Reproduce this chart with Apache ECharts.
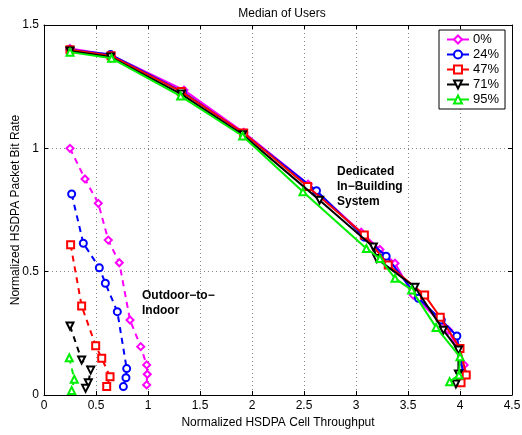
<!DOCTYPE html>
<html>
<head>
<meta charset="utf-8">
<script src="https://cdn.jsdelivr.net/npm/echarts@6/dist/echarts.min.js"></script>
<style>
  html, body { margin: 0; padding: 0; background: #fff; }
  #chart { width: 522px; height: 435px; }
</style>
</head>
<body>
<div id="chart"></div>
<script>
// legend names, colours and marker shapes
var names = ['0%', '24%', '47%', '71%', '95%'];
var colors = ['#ff00ff', '#0000ff', '#ff0000', '#000000', '#00ee00'];
var symbols = ['emptyDiamond', 'emptyCircle', 'emptyRect', 'emptyTriangle', 'emptyTriangle'];
var rotates = [0, 0, 0, 180, 0];

// Dedicated In-Building System (solid), [throughput, bit rate]
var dib0 = [[0.25,1.405],[0.645,1.378],[1.346,1.236],[1.92,1.065],[2.54,0.855],[3.05,0.66],[3.23,0.59],[3.375,0.534],[3.55,0.405],[3.89,0.263],[4.04,0.122],[4.02,0.07]];
var dib24 = [[0.25,1.40],[0.64,1.38],[1.33,1.23],[1.92,1.06],[2.62,0.828],[3.08,0.64],[3.29,0.563],[3.6,0.392],[3.82,0.304],[3.97,0.239],[4.03,0.088],[4.0,0.05]];
var dib47 = [[0.25,1.40],[0.645,1.375],[1.32,1.23],[1.92,1.062],[2.535,0.845],[3.08,0.649],[3.31,0.527],[3.66,0.405],[3.81,0.315],[4.0,0.189],[4.06,0.081],[4.01,0.05]];
var dib71 = [[0.25,1.395],[0.64,1.37],[1.32,1.22],[1.91,1.055],[2.65,0.79],[3.167,0.60],[3.2,0.553],[3.567,0.437],[3.84,0.263],[3.985,0.182],[3.985,0.085],[3.96,0.045]];
var dib95 = [[0.25,1.39],[0.65,1.365],[1.314,1.212],[1.91,1.05],[2.49,0.824],[3.1,0.594],[3.23,0.553],[3.375,0.473],[3.535,0.426],[3.77,0.274],[4.0,0.155],[3.99,0.081],[3.9,0.054]];

// Outdoor-to-Indoor (dashed)
var o2i0 = [[0.25,1.0],[0.394,0.876],[0.522,0.777],[0.618,0.628],[0.724,0.536],[0.827,0.304],[0.93,0.196],[0.987,0.122],[0.993,0.084],[0.987,0.041]];
var o2i24 = [[0.266,0.815],[0.378,0.615],[0.532,0.516],[0.59,0.453],[0.705,0.338],[0.795,0.107],[0.788,0.07],[0.763,0.034]];
var o2i47 = [[0.256,0.609],[0.362,0.361],[0.497,0.2],[0.555,0.149],[0.635,0.074],[0.603,0.034]];
var o2i71 = [[0.25,0.28],[0.362,0.142],[0.449,0.101],[0.426,0.05],[0.4,0.027]];
var o2i95 = [[0.243,0.151],[0.291,0.064],[0.266,0.018]];

var solidData = [dib0, dib24, dib47, dib71, dib95];
var dashData = [o2i0, o2i24, o2i47, o2i71, o2i95];

var FONT = 'Liberation Sans, Arial, sans-serif';

var series = [];
solidData.forEach(function (d, i) {
  series.push({
    name: names[i],
    type: 'line',
    data: d,
    symbol: symbols[i],
    symbolRotate: rotates[i],
    symbolSize: 7,
    z: 2 + i,
    lineStyle: { color: colors[i], width: 2 },
    itemStyle: { color: colors[i], borderWidth: 1.5 },
    animation: false
  });
});
dashData.forEach(function (d, i) {
  series.push({
    name: names[i] + ' o2i',
    type: 'line',
    data: d,
    symbol: symbols[i],
    symbolRotate: rotates[i],
    symbolSize: 7,
    lineStyle: { color: colors[i], width: 2, type: [6, 5] },
    itemStyle: { color: colors[i], borderWidth: 1.5 },
    animation: false
  });
});

var gridLine = { show: true, lineStyle: { color: '#888', type: [1, 3], width: 1 } };

var option = {
  backgroundColor: '#fff',
  animation: false,
  textStyle: { fontFamily: FONT },
  title: {
    text: 'Median of Users',
    left: 277, top: 3, textAlign: 'center',
    textStyle: { fontSize: 12, fontWeight: 'normal', color: '#000', fontFamily: FONT }
  },
  grid: { left: 44, top: 25, right: 10, bottom: 40, containLabel: false, outerBoundsMode: 'none' },
  legend: {
    data: names,
    orient: 'vertical',
    left: 439, top: 30,
    backgroundColor: '#fff',
    borderColor: '#000', borderWidth: 1,
    padding: [3, 6, 3, 7],
    itemGap: 2,
    itemWidth: 22, itemHeight: 10,
    textStyle: { fontSize: 13, color: '#000', fontFamily: FONT, padding: [0, 0, 0, -1] }
  },
  xAxis: [{
    type: 'value', min: 0, max: 4.5, interval: 0.5,
    name: 'Normalized HSDPA Cell Throughput',
    nameLocation: 'middle', nameGap: 21,
    nameTextStyle: { fontSize: 12, color: '#000' },
    axisLine: { onZero: false, lineStyle: { color: '#000' } },
    axisTick: { inside: true, length: 4, lineStyle: { color: '#000' } },
    axisLabel: { fontSize: 12, color: '#000', margin: 5 },
    splitLine: gridLine
  }, {
    type: 'value', min: 0, max: 4.5, interval: 0.5, position: 'top',
    axisLine: { onZero: false, lineStyle: { color: '#000' } },
    axisTick: { inside: true, length: 4, lineStyle: { color: '#000' } },
    axisLabel: { show: false }, splitLine: { show: false }
  }],
  yAxis: [{
    type: 'value', min: 0, max: 1.5, interval: 0.5,
    name: 'Normalized HSDPA Packet Bit Rate',
    nameLocation: 'middle', nameGap: 22, nameMoveOverlap: false,
    nameTextStyle: { fontSize: 12, color: '#000' },
    axisLine: { onZero: false, lineStyle: { color: '#000' } },
    axisTick: { inside: true, length: 4, lineStyle: { color: '#000' } },
    axisLabel: { fontSize: 12, color: '#000', margin: 5 },
    splitLine: gridLine
  }, {
    type: 'value', min: 0, max: 1.5, interval: 0.5, position: 'right',
    axisLine: { onZero: false, lineStyle: { color: '#000' } },
    axisTick: { inside: true, length: 4, lineStyle: { color: '#000' } },
    axisLabel: { show: false }, splitLine: { show: false }
  }],
  graphic: [{
    type: 'text', left: 337, top: 164,
    style: { text: 'Dedicated\nIn\u2212Building\nSystem', font: 'bold 12px ' + FONT, fill: '#000', lineHeight: 15 }
  }, {
    type: 'text', left: 142, top: 288,
    style: { text: 'Outdoor\u2212to\u2212\nIndoor', font: 'bold 12px ' + FONT, fill: '#000', lineHeight: 15 }
  }],
  series: series
};

var chart = echarts.init(document.getElementById('chart'), null, { renderer: 'canvas' });
chart.setOption(option);
</script>
</body>
</html>
